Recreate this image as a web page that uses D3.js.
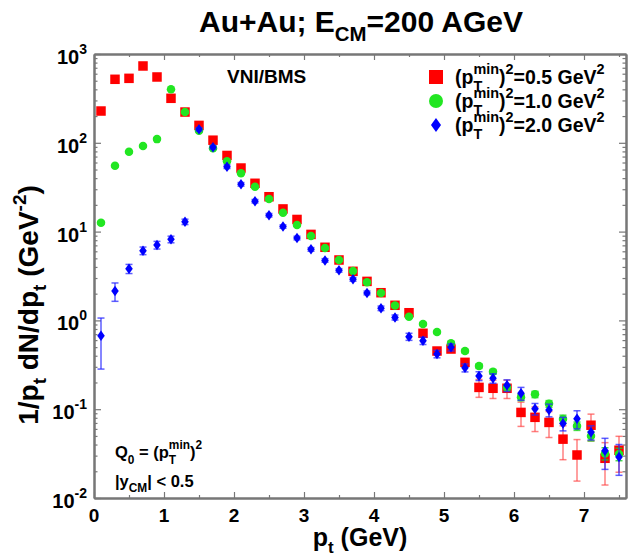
<!DOCTYPE html>
<html>
<head>
<meta charset="utf-8">
<script src="https://cdn.jsdelivr.net/npm/d3@7"></script>
<style>
  body { margin: 0; background: #fff; }
  svg text { font-family: "Liberation Sans", Arial, sans-serif; font-weight: bold; fill: #000; white-space: pre; }
</style>
</head>
<body>
<div id="chart"></div>
<script>
const width = 637, height = 555;

// p_t bin centres (GeV)
const pt = [0.1, 0.3, 0.5, 0.7, 0.9, 1.1, 1.3, 1.5, 1.7, 1.9,
            2.1, 2.3, 2.5, 2.7, 2.9, 3.1, 3.3, 3.5, 3.7, 3.9,
            4.1, 4.3, 4.5, 4.7, 4.9, 5.1, 5.3, 5.5, 5.7, 5.9,
            6.1, 6.3, 6.5, 6.7, 6.9, 7.1, 7.3, 7.5];

// (pT min)^2 = 0.5 GeV^2
const red = [228, 519, 532, 733, 551, 317, 222, 157, 107, 72,
             52, 35, 24.7, 18.0, 13.7, 9.3, 6.66, 4.79, 3.57, 2.75,
             2.05, 1.48, 1.22, 0.716, 0.452, 0.476, 0.337, 0.176, 0.172, 0.172,
             0.092, 0.081, 0.071, 0.046, 0.0305, 0.066, 0.028, 0.0345];
const redErr = [5, 10, 10, 14, 11, 7, 5, 4, 3, 2,
                1.5, 1, 0.8, 0.6, 0.5, 0.35, 0.25, 0.2, 0.15, 0.12,
                0.1, 0.08, 0.07, 0.05, 0.035, 0.035, 0.03, 0.04, 0.04, 0.04,
                0.028, 0.025, 0.023, 0.019, 0.015, 0.022, 0.014, 0.015];

// (pT min)^2 = 1.0 GeV^2
const green = [12.6, 55.2, 79.4, 92, 110, 400, 222, 137, 86.7, 62,
               45.4, 32, 23.3, 16.3, 11.9, 8.9, 6.53, 4.79, 3.6, 2.69,
               2.04, 1.47, 1.10, 0.91, 0.74, 0.552, 0.452, 0.306, 0.264, 0.176,
               0.136, 0.147, 0.115, 0.0776, 0.0647, 0.0499, 0.0318, 0.0313];
const greenErr = [0.4, 1.5, 2, 2.2, 2.5, 6, 4, 3, 2, 1.4,
                  1, 0.7, 0.5, 0.4, 0.3, 0.22, 0.17, 0.13, 0.1, 0.08,
                  0.06, 0.05, 0.04, 0.035, 0.03, 0.025, 0.022, 0.018, 0.016, 0.013,
                  0.011, 0.012, 0.01, 0.008, 0.007, 0.006, 0.005, 0.005];

// (pT min)^2 = 2.0 GeV^2
const blue = [0.673, 2.14, 3.82, 6.1, 7.06, 8.18, 12.9, 142, 89, 53.8,
              34.1, 22, 15.3, 11.4, 8.47, 6.31, 4.74, 3.66, 2.9, 2.04,
              1.37, 1.08, 0.656, 0.59, 0.419, 0.498, 0.293, 0.237, 0.223, 0.186,
              0.151, 0.101, 0.098, 0.069, 0.078, 0.055, 0.034, 0.029];
const blueErr = [0.39, 0.5, 0.45, 0.6, 0.7, 0.7, 0.9, 6, 4, 2.5,
                 1.6, 1, 0.7, 0.5, 0.4, 0.3, 0.22, 0.17, 0.14, 0.1,
                 0.08, 0.07, 0.06, 0.055, 0.04, 0.045, 0.03, 0.027, 0.027, 0.028,
                 0.025, 0.015, 0.016, 0.012, 0.018, 0.01, 0.013, 0.011];

const xMajor = [0, 1, 2, 3, 4, 5, 6, 7];
const xMinor = [0.5, 1.5, 2.5, 3.5, 4.5, 5.5, 6.5, 7.5];
const yExp = [-2, -1, 0, 1, 2, 3];
const legendLabels = ["0.5", "1.0", "2.0"];

const frame = { left: 94, right: 626, top: 54, bottom: 498 };
const axisColor = "#777";

const svg = d3.select("#chart").append("svg")
    .attr("width", width)
    .attr("height", height)
    .attr("viewBox", `0 0 ${width} ${height}`);

const x = d3.scaleLinear().domain([0, 7.6]).range([frame.left, frame.right]);
const y = d3.scaleLog().domain([1e-2, 1e3]).range([frame.bottom, frame.top]);

const yMajor = yExp.map(e => Math.pow(10, e));
const yMinor = [];
yExp.slice(0, -1).forEach(e => {
    [2, 3, 4, 5, 6, 7, 8, 9].forEach(m => yMinor.push(m * Math.pow(10, e)));
});

// text helper: sequential pieces, with sub/sup (stacked when both)
const addText = (g, str, tx, ty, fs) => {
    const t = g.append("text").attr("x", tx).attr("y", ty).attr("font-size", fs).text(str);
    return t.node().getComputedTextLength();
};
const rich = (g, parts, fs, ratio = 0.72, subOff = 0.3, supOff = 0.42) => {
    let cx = 0;
    const small = fs * ratio;
    parts.forEach(p => {
        let w = 0;
        if (p.n !== undefined) w = addText(g, p.n, cx, 0, fs);
        else {
            if (p.sub) w = addText(g, p.sub, cx, fs * subOff, small);
            if (p.sup) w = Math.max(w, addText(g, p.sup, cx, -fs * supOff, small));
        }
        cx += w;
    });
    return cx;
};

// axes
const styleAxis = g => {
    g.select(".domain").attr("stroke", axisColor).attr("stroke-width", 2);
    g.selectAll(".tick line").attr("stroke", axisColor).attr("stroke-width", 1.2);
};

const axBottom = svg.append("g").attr("transform", `translate(0,${frame.bottom})`);
axBottom.append("g")
    .call(d3.axisBottom(x).tickValues(xMajor).tickSize(-6).tickSizeOuter(0).tickFormat(""))
    .call(styleAxis);
axBottom.append("g")
    .call(d3.axisBottom(x).tickValues(xMinor).tickSize(-3).tickSizeOuter(0).tickFormat(""))
    .call(styleAxis);

const axTop = svg.append("g").attr("transform", `translate(0,${frame.top})`);
axTop.append("g")
    .call(d3.axisTop(x).tickValues(xMajor).tickSize(-6).tickSizeOuter(0).tickFormat(""))
    .call(styleAxis);
axTop.append("g")
    .call(d3.axisTop(x).tickValues(xMinor).tickSize(-3).tickSizeOuter(0).tickFormat(""))
    .call(styleAxis);

const axLeft = svg.append("g").attr("transform", `translate(${frame.left},0)`);
axLeft.append("g")
    .call(d3.axisLeft(y).tickValues(yMajor).tickSize(-7).tickSizeOuter(0).tickFormat(""))
    .call(styleAxis);
axLeft.append("g")
    .call(d3.axisLeft(y).tickValues(yMinor).tickSize(-3.5).tickSizeOuter(0).tickFormat(""))
    .call(styleAxis);

const axRight = svg.append("g").attr("transform", `translate(${frame.right},0)`);
axRight.append("g")
    .call(d3.axisRight(y).tickValues(yMajor).tickSize(-7).tickSizeOuter(0).tickFormat(""))
    .call(styleAxis);
axRight.append("g")
    .call(d3.axisRight(y).tickValues(yMinor).tickSize(-3.5).tickSizeOuter(0).tickFormat(""))
    .call(styleAxis);

// x tick labels
svg.append("g").selectAll("text")
    .data(xMajor)
    .join("text")
    .attr("x", d => x(d))
    .attr("y", frame.bottom + 24)
    .attr("text-anchor", "middle")
    .attr("font-size", 19)
    .text(d => d);

// y tick labels 10^n
const yl = svg.append("g").selectAll("text")
    .data(yExp)
    .join("text")
    .attr("x", 87)
    .attr("y", d => y(Math.pow(10, d)) + 10)
    .attr("text-anchor", "end")
    .attr("font-size", 20);
yl.append("tspan").text("10");
yl.append("tspan").attr("font-size", 14).attr("dy", -10).text(d => d);

// series
const series = [
    { vals: red, err: redErr, color: "#ff0000", bar: "rgba(255,60,60,0.65)", shape: "square" },
    { vals: green, err: greenErr, color: "#22e622", bar: "rgba(30,210,30,0.8)", shape: "circle" },
    { vals: blue, err: blueErr, color: "#0000ff", bar: "rgba(40,40,255,0.75)", shape: "diamond" }
];

const diamond = (w, h) => `M0,${-h / 2}L${w / 2},0L0,${h / 2}L${-w / 2},0Z`;

const drawMarker = (g, shape, color, size) => {
    if (shape === "square") {
        g.append("rect").attr("x", -size / 2).attr("y", -size / 2)
            .attr("width", size).attr("height", size).attr("fill", color);
    } else if (shape === "circle") {
        g.append("circle").attr("r", size / 2).attr("fill", color);
    } else {
        g.append("path").attr("d", diamond(size * 0.72, size)).attr("fill", color);
    }
};

const plot = svg.append("g");
series.forEach(s => {
    const data = pt.map((p, i) => ({ p, v: s.vals[i], e: s.err[i] }));
    const eg = plot.append("g").attr("stroke", s.bar).attr("stroke-width", 1.5);
    data.forEach(d => {
        const y1 = y(d.v + d.e);
        const y0 = y(Math.max(d.v - d.e, 1.2e-3));
        const cx = x(d.p);
        eg.append("line").attr("x1", cx).attr("x2", cx).attr("y1", y1).attr("y2", y0);
        eg.append("line").attr("x1", cx - 3.5).attr("x2", cx + 3.5).attr("y1", y1).attr("y2", y1);
        eg.append("line").attr("x1", cx - 3.5).attr("x2", cx + 3.5).attr("y1", y0).attr("y2", y0);
    });
    const size = s.shape === "square" ? 9.5 : s.shape === "circle" ? 8.5 : 10.5;
    plot.append("g").selectAll("g")
        .data(data)
        .join("g")
        .attr("transform", d => `translate(${x(d.p)},${y(d.v)})`)
        .each(function () { drawMarker(d3.select(this), s.shape, s.color, size); });
});

// title
const title = svg.append("g");
const tw = rich(title, [{ n: "Au+Au; E" }, { sub: "CM" }, { n: "=200 AGeV" }], 30, 0.68);
title.attr("transform", `translate(${361 - tw / 2},32)`);

// x label
const xl = svg.append("g");
const xw = rich(xl, [{ n: "p" }, { sub: "t" }, { n: " (GeV)" }], 25, 0.68, 0.26);
xl.attr("transform", `translate(${360 - xw / 2},546)`);

// y label
const ylab = svg.append("g").attr("transform", "translate(28,305) rotate(-90)");
const ylInner = ylab.append("g");
const yw = rich(ylInner, [{ n: "1/p" }, { sub: "t" }, { n: " dN/dp" }, { sub: "t" }, { n: " (GeV" }, { sup: "-2" }, { n: ")" }], 28, 0.68);
ylInner.attr("transform", `translate(${-yw / 2},${28 * 0.36})`);

// VNI/BMS
svg.append("text").attr("x", 227).attr("y", 83).attr("font-size", 19).text("VNI/BMS");

// legend
legendLabels.forEach((lab, i) => {
    const by = 84 + i * 24;
    const mg = svg.append("g").attr("transform", `translate(436,${by - 7})`);
    drawMarker(mg, series[i].shape, series[i].color, 14);
    const tg = svg.append("g").attr("transform", `translate(455,${by})`);
    rich(tg, [{ n: "(p" }, { sub: "T", sup: "min" }, { n: ")" }, { sup: "2" }, { n: `=${lab} GeV` }, { sup: "2" }], 19.5, 0.74, 0.38, 0.52);
});

// annotations
const q = svg.append("g").attr("transform", "translate(115,458)");
rich(q, [{ n: "Q" }, { sub: "0" }, { n: " = (p" }, { sub: "T", sup: "min" }, { n: ")" }, { sup: "2" }], 16.5, 0.72, 0.38, 0.52);
const yc = svg.append("g").attr("transform", "translate(115,487)");
rich(yc, [{ n: "|y" }, { sub: "CM" }, { n: "| < 0.5" }], 16.5, 0.72);
</script>
</body>
</html>
